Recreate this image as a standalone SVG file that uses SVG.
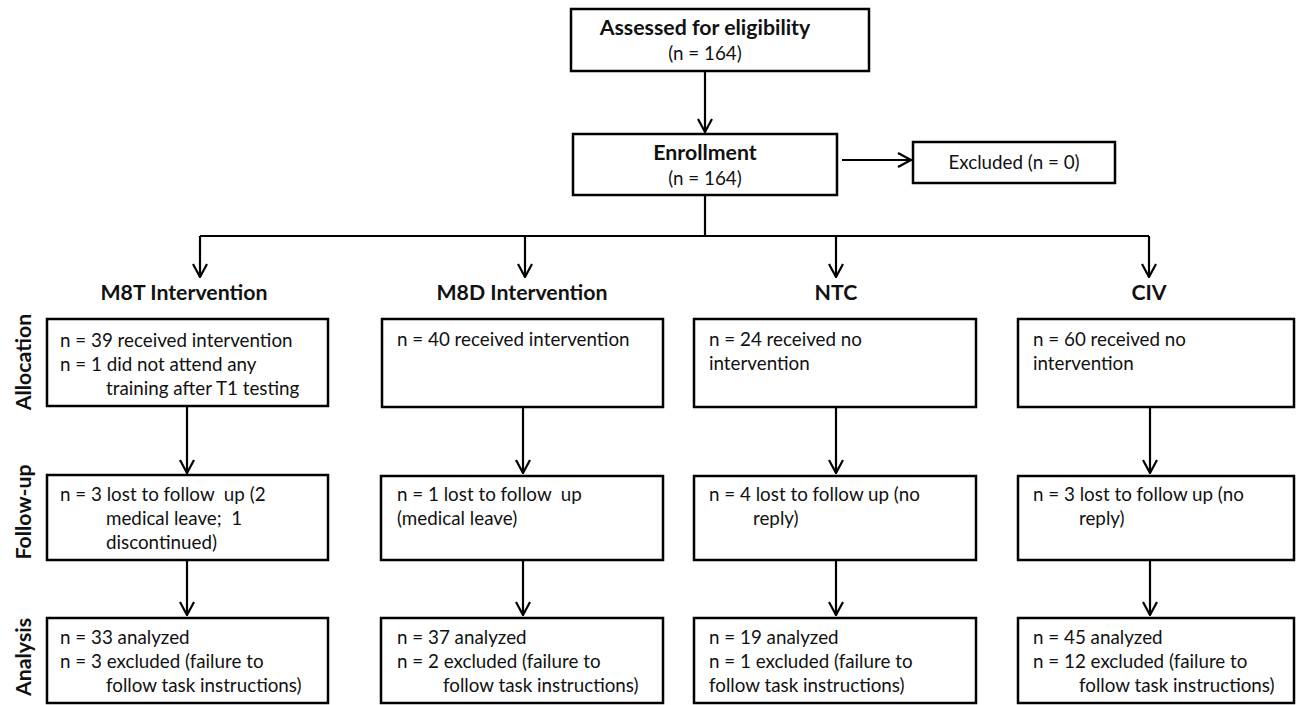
<svg xmlns="http://www.w3.org/2000/svg" width="1296" height="705" viewBox="0 0 1296 705">
<style>
  .box { fill: #fff; stroke: #000; stroke-width: 2.5; }
  .ln { fill: none; stroke: #000; stroke-width: 2.2; }
  .t { font-family: Lato, "Liberation Sans", sans-serif; font-size: 18.8px; fill: #111; white-space: pre; }
  .b { font-family: Lato, "Liberation Sans", sans-serif; font-size: 21.3px; font-weight: bold; fill: #111; }
  .c { text-anchor: middle; }
</style>
<defs>
  <marker id="arr" viewBox="-1 -8 15 16" refX="13" refY="0" markerWidth="15" markerHeight="16" markerUnits="userSpaceOnUse" orient="auto">
    <path d="M0,-7 L13,0 L0,7" fill="none" stroke="#000" stroke-width="2.2"/>
  </marker>
</defs>
<rect width="1296" height="705" fill="#fff"/>

<g id="connectors">
  <path class="ln" d="M705,71 V132" marker-end="url(#arr)"/>
  <path class="ln" d="M842,160 H911" marker-end="url(#arr)"/>
  <path class="ln" d="M705,195 V236"/>
  <path class="ln" d="M200,236 H1149"/>
  <path class="ln" d="M200,236 V277" marker-end="url(#arr)"/>
  <path class="ln" d="M525,236 V277" marker-end="url(#arr)"/>
  <path class="ln" d="M836,236 V277" marker-end="url(#arr)"/>
  <path class="ln" d="M1149,236 V277" marker-end="url(#arr)"/>
  <path class="ln" d="M187,406 V473" marker-end="url(#arr)"/>
  <path class="ln" d="M523,407 V473" marker-end="url(#arr)"/>
  <path class="ln" d="M836,407 V473" marker-end="url(#arr)"/>
  <path class="ln" d="M1150,407 V473" marker-end="url(#arr)"/>
  <path class="ln" d="M187,560 V615" marker-end="url(#arr)"/>
  <path class="ln" d="M523,560 V615" marker-end="url(#arr)"/>
  <path class="ln" d="M836,560 V615" marker-end="url(#arr)"/>
  <path class="ln" d="M1150,560 V615" marker-end="url(#arr)"/>
</g>

<g id="assessed">
  <rect class="box" x="571" y="9" width="298" height="62"/>
  <text class="b c" x="705" y="35">Assessed for eligibility</text>
  <text class="t c" x="705" y="60">(n = 164)</text>
</g>
<g id="enrollment">
  <rect class="box" x="573" y="134" width="264" height="61"/>
  <text class="b c" x="705" y="160">Enrollment</text>
  <text class="t c" x="705" y="185">(n = 164)</text>
</g>
<g id="excluded">
  <rect class="box" x="913" y="142" width="202" height="41"/>
  <text class="t c" x="1014" y="169">Excluded (n = 0)</text>
</g>

<g id="stage-labels">
  <text class="b c" transform="translate(31,362) rotate(-90)">Allocation</text>
  <text class="b c" transform="translate(31,512) rotate(-90)">Follow-up</text>
  <text class="b c" transform="translate(31,657) rotate(-90)">Analysis</text>
</g>

<g id="title-m8t"><text class="b c" x="184" y="300">M8T Intervention</text></g>
<g id="title-m8d"><text class="b c" x="522" y="300">M8D Intervention</text></g>
<g id="title-ntc"><text class="b c" x="836" y="300">NTC</text></g>
<g id="title-civ"><text class="b c" x="1149" y="300">CIV</text></g>

<g id="alloc-m8t">
  <rect class="box" x="47" y="319" width="281" height="87"/>
  <text class="t" x="60" y="347">n = 39 received intervention</text>
  <text class="t" x="60" y="371">n = 1 did not attend any</text>
  <text class="t" x="106" y="395">training after T1 testing</text>
</g>
<g id="alloc-m8d">
  <rect class="box" x="382" y="319" width="281" height="88"/>
  <text class="t" x="397" y="346">n = 40 received intervention</text>
</g>
<g id="alloc-ntc">
  <rect class="box" x="694" y="319" width="282" height="88"/>
  <text class="t" x="709" y="346">n = 24 received no</text>
  <text class="t" x="709" y="370">intervention</text>
</g>
<g id="alloc-civ">
  <rect class="box" x="1018" y="319" width="276" height="88"/>
  <text class="t" x="1033" y="346">n = 60 received no</text>
  <text class="t" x="1033" y="370">intervention</text>
</g>

<g id="fu-m8t">
  <rect class="box" x="47" y="475" width="281" height="85"/>
  <text class="t" x="60" y="501">n = 3 lost to follow  up (2</text>
  <text class="t" x="106" y="525">medical leave;  1</text>
  <text class="t" x="106" y="549">discontinued)</text>
</g>
<g id="fu-m8d">
  <rect class="box" x="381" y="476" width="282" height="84"/>
  <text class="t" x="397" y="501">n = 1 lost to follow  up</text>
  <text class="t" x="397" y="525">(medical leave)</text>
</g>
<g id="fu-ntc">
  <rect class="box" x="694" y="476" width="282" height="84"/>
  <text class="t" x="709" y="501">n = 4 lost to follow up (no</text>
  <text class="t" x="753" y="525">reply)</text>
</g>
<g id="fu-civ">
  <rect class="box" x="1018" y="476" width="276" height="84"/>
  <text class="t" x="1033" y="501">n = 3 lost to follow up (no</text>
  <text class="t" x="1079" y="525">reply)</text>
</g>

<g id="an-m8t">
  <rect class="box" x="47" y="618" width="281" height="85"/>
  <text class="t" x="60" y="644">n = 33 analyzed</text>
  <text class="t" x="60" y="668">n = 3 excluded (failure to</text>
  <text class="t" x="106" y="692">follow task instructions)</text>
</g>
<g id="an-m8d">
  <rect class="box" x="381" y="618" width="282" height="85"/>
  <text class="t" x="397" y="644">n = 37 analyzed</text>
  <text class="t" x="397" y="668">n = 2 excluded (failure to</text>
  <text class="t" x="443" y="692">follow task instructions)</text>
</g>
<g id="an-ntc">
  <rect class="box" x="694" y="618" width="282" height="85"/>
  <text class="t" x="709" y="644">n = 19 analyzed</text>
  <text class="t" x="709" y="668">n = 1 excluded (failure to</text>
  <text class="t" x="709" y="692">follow task instructions)</text>
</g>
<g id="an-civ">
  <rect class="box" x="1018" y="618" width="276" height="85"/>
  <text class="t" x="1033" y="644">n = 45 analyzed</text>
  <text class="t" x="1033" y="668">n = 12 excluded (failure to</text>
  <text class="t" x="1079" y="692">follow task instructions)</text>
</g>
</svg>
